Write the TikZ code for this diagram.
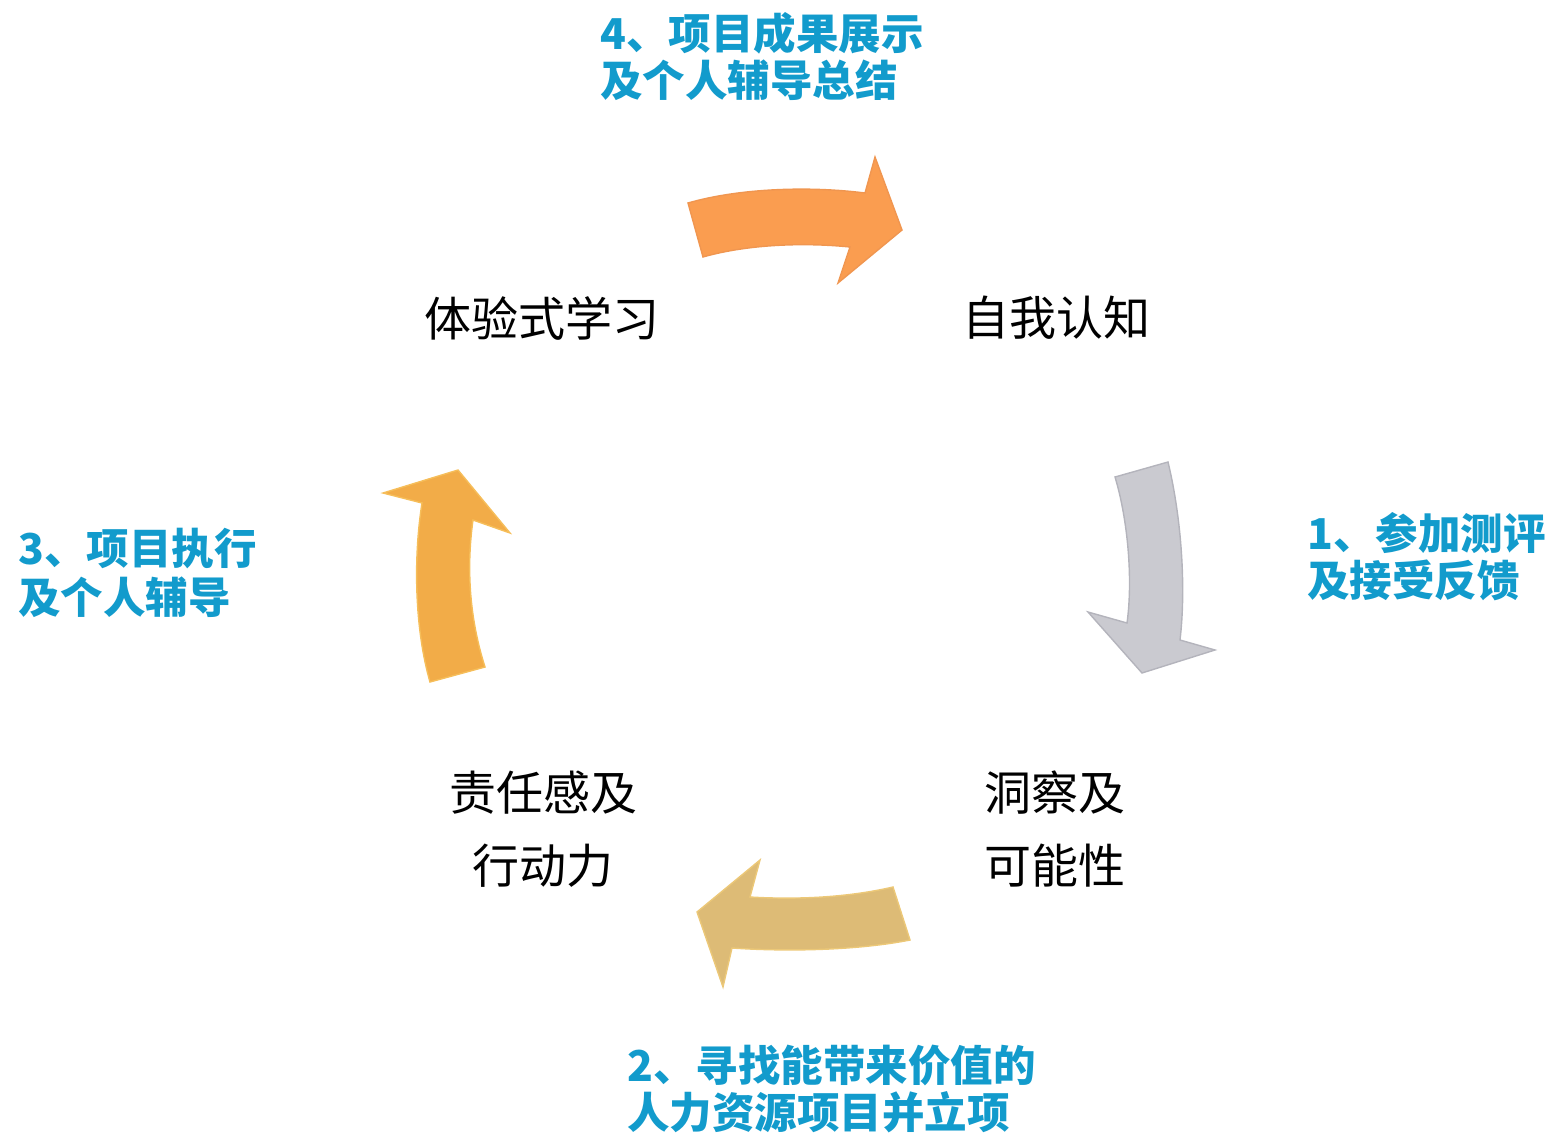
\documentclass[tikz,border=0pt]{standalone}
\usepackage{fontspec}
\newfontfamily\cjk{Noto Sans CJK SC}
\definecolor{bluetxt}{RGB}{18,155,204}
\definecolor{orgA}{RGB}{250,157,80}
\definecolor{orgE}{RGB}{240,150,80}
\definecolor{gryA}{RGB}{202,202,208}
\definecolor{gryE}{RGB}{180,180,188}
\definecolor{tanA}{RGB}{221,187,118}
\definecolor{tanE}{RGB}{236,200,120}
\definecolor{yelA}{RGB}{242,172,72}
\definecolor{yelE}{RGB}{246,190,90}
\tikzset{
  stagelabel/.style={inner sep=0pt, align=center, font=\cjk\fontsize{47}{73}\selectfont, text=black},
  steplabel/.style={inner sep=0pt, align=left, anchor=west, font=\cjk\bfseries\fontsize{42.5}{47}\selectfont, text=bluetxt},
  arrowbody/.style={line width=1.4pt, line join=miter},
}
\begin{document}
\begin{tikzpicture}[x=1pt,y=-1pt]
\useasboundingbox (0,0) rectangle (1548,1135);

% stage labels
\node[stagelabel] (learn) at (542,318) {体验式学习};
\node[stagelabel] (self) at (1056,318) {自我认知};
\node[stagelabel] (insight) at (1055,829.5) {洞察及\\可能性};
\node[stagelabel] (resp) at (543,829.5) {责任感及\\行动力};

% step labels
\node[steplabel] (s4) at (600,56.5) {4、项目成果展示\\及个人辅导总结};
\node[steplabel] (s1) at (1307,556.5) {1、参加测评\\及接受反馈};
\node[steplabel,font=\cjk\bfseries\fontsize{42.5}{49}\selectfont] (s3) at (18,572.5) {3、项目执行\\及个人辅导};
\node[steplabel] (s2) at (627,1088.5) {2、寻找能带来价值的\\人力资源项目并立项};

% top arrow (orange)
\draw[arrowbody, draw=orgE, fill=orgA]
  (688,203) .. controls (740,188) and (810,186) .. (865,193) -- (875,157) -- (902,230)
  -- (838,283) -- (850,247) .. controls (800,242) and (745,245) .. (703,257) -- cycle;

% right arrow (grey)
\draw[arrowbody, draw=gryE, fill=gryA]
  (1115,477) -- (1168,462) .. controls (1182,520) and (1186,590) .. (1180,640)
  -- (1215,650) -- (1142,673) -- (1088,612) -- (1127,623)
  .. controls (1133,580) and (1128,520) .. (1115,477) -- cycle;

% bottom arrow (tan)
\draw[arrowbody, draw=tanE, fill=tanA]
  (893,887) .. controls (850,897) and (800,900) .. (750,897) -- (760,860) -- (697,912)
  -- (723,987) -- (732,948) .. controls (790,952) and (860,950) .. (910,940) -- cycle;

% left arrow (amber)
\draw[arrowbody, draw=yelE, fill=yelA]
  (430,682) .. controls (415,630) and (413,560) .. (422,503) -- (383,493) -- (458,470)
  -- (510,533) -- (473,520) .. controls (466,570) and (470,620) .. (485,667) -- cycle;
\end{tikzpicture}
\end{document}
